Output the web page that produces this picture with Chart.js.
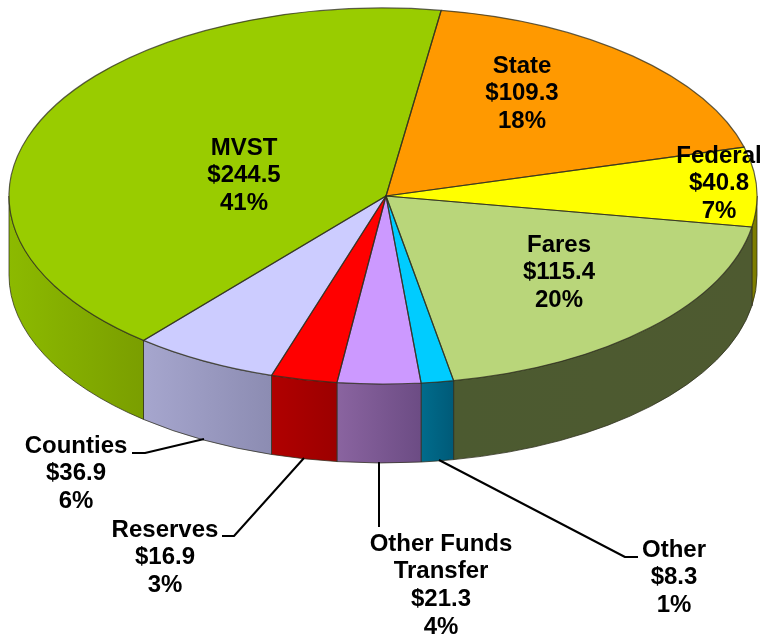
<!DOCTYPE html>
<html>
<head>
<meta charset="utf-8">
<style>html,body{margin:0;padding:0;background:#fff}#w{position:relative;width:761px;height:636px}</style>
<script src="https://cdn.jsdelivr.net/npm/chart.js@4"></script>
</head>
<body>
<div id="w"><canvas id="c" width="761" height="636"></canvas></div>
<script>
const categories = ["State","Federal","Fares","Other","Other Funds Transfer","Reserves","Counties","MVST"];
const amounts = [109.3,40.8,115.4,8.3,21.3,16.9,36.9,244.5];
const percents = [18,7,20,1,4,3,6,41];

const topColors = ["#ff9900","#ffff00","#b9d67a","#00ccff","#cc99ff","#ff0000","#ccccff","#99cc00"];
const wallColors = [["#806000","#806000"],["#808000","#7a7a00"],["#4c5a30","#4e5a30"],["#006c8c","#005a78"],
  ["#8a64a0","#6c4c84"],["#b00000","#9c0000"],["#a6a6ce","#8c8cb2"],["#8cba00","#7a9e00"]];
const labelLines = [["State"],["Federal"],["Fares"],["Other"],["Other Funds","Transfer"],["Reserves"],["Counties"],["MVST"]];
const labelCentres = [[522,66],[719,156],[559,245],[674,550],[441,544],[165,530],[76,446],[244,148]];
const leaders = [null,null,null,
  [[638,557],[625,557],[439,460]],
  [[379,527],[379,462]],
  [[222,536],[234,536],[304,458]],
  [[132,453],[145,453],[204,439]],
  null];

// Rim ellipse; the hub sits slightly right of its centre (perspective of the 3-D pie).
const RX = 374, RY = 188, HUB_SHIFT = 3, DEPTH = 79, LINE = 27.7;
const X_STRETCH = RX/RY;
const EDGE = "rgba(45,45,30,0.75)";
const rimAngle = t => t - Math.asin((HUB_SHIFT/X_STRETCH)*Math.sin(t)/RY);

const pie3d = {
  id:"pie3d",
  beforeDatasetsDraw(chart){
    const ctx = chart.ctx, arcs = chart.getDatasetMeta(0).data;
    const {x:hx,y:cy} = arcs[0];
    const cx = hx-HUB_SHIFT;
    arcs.forEach((a,i)=>{
      const t0=rimAngle(a.startAngle), t1=rimAngle(a.endAngle);
      [[0,Math.PI],[2*Math.PI,3*Math.PI]].forEach(([lo,hi])=>{
        const s=Math.max(t0,lo), e=Math.min(t1,hi);
        if(e<=s) return;
        const x0=cx+RX*Math.cos(e), x1=cx+RX*Math.cos(s);
        const g=ctx.createLinearGradient(x0,0,x1,0);
        g.addColorStop(0,wallColors[i][0]); g.addColorStop(1,wallColors[i][1]);
        ctx.beginPath();
        ctx.ellipse(cx,cy,RX,RY,0,s,e);
        ctx.ellipse(cx,cy+DEPTH,RX,RY,0,e,s,true);
        ctx.closePath();
        ctx.fillStyle=g; ctx.fill();
        ctx.strokeStyle=EDGE; ctx.lineWidth=1; ctx.stroke();
      });
    });
    ctx.save();
    ctx.beginPath(); ctx.ellipse(cx,cy,RX,RY,0,0,2*Math.PI); ctx.clip();
    ctx.translate(hx,cy); ctx.scale(X_STRETCH,1); ctx.translate(-hx,-cy);
  },
  afterDatasetsDraw(chart){
    const ctx = chart.ctx, arcs = chart.getDatasetMeta(0).data;
    ctx.restore();
    const {x:hx,y:cy} = arcs[0];
    const cx = hx-HUB_SHIFT;
    arcs.forEach(a=>{
      ctx.beginPath();
      ctx.moveTo(hx,cy);
      ctx.ellipse(cx,cy,RX,RY,0,rimAngle(a.startAngle),rimAngle(a.endAngle));
      ctx.closePath();
      ctx.strokeStyle=EDGE; ctx.lineWidth=1.2; ctx.lineJoin="round"; ctx.stroke();
    });
    ctx.strokeStyle="#000"; ctx.lineWidth=2;
    leaders.forEach(l=>{
      if(!l) return;
      ctx.beginPath(); l.forEach(([x,y],k)=>k?ctx.lineTo(x,y):ctx.moveTo(x,y)); ctx.stroke();
    });
    ctx.fillStyle="#000"; ctx.font='bold 24px "Liberation Sans", Arial, sans-serif';
    ctx.textAlign="center"; ctx.textBaseline="middle";
    categories.forEach((c,i)=>{
      const lines=[...labelLines[i],"$"+amounts[i].toFixed(1),percents[i]+"%"];
      lines.forEach((t,k)=>ctx.fillText(t,labelCentres[i][0],labelCentres[i][1]+k*LINE));
    });
  }
};

new Chart(document.getElementById("c"),{
  type:"pie",
  data:{labels:categories,datasets:[{data:amounts,backgroundColor:topColors,borderWidth:0,clip:false}]},
  options:{
    responsive:false,animation:false,rotation:8.5,radius:RY+4,
    layout:{padding:{left:11,right:0,top:8,bottom:252}},
    plugins:{legend:{display:false},tooltip:{enabled:false}}
  },
  plugins:[pie3d]
});
</script>
</body>
</html>
